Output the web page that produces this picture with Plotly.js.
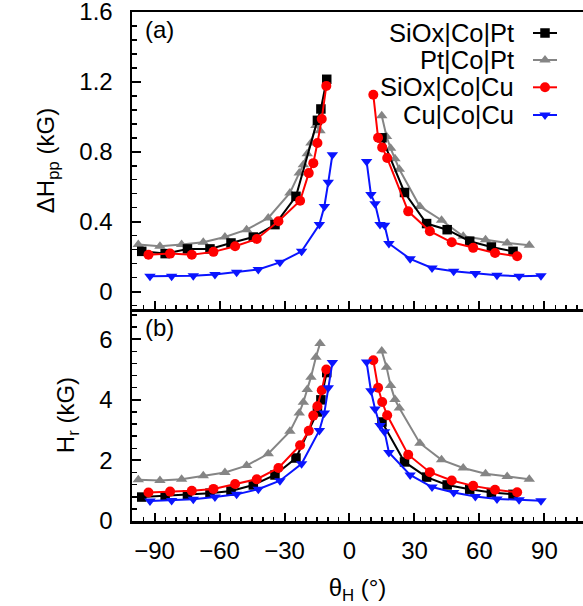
<!DOCTYPE html>
<html><head><meta charset="utf-8">
<script src="https://cdn.plot.ly/plotly-3.0.1.min.js"></script>
<style>html,body{margin:0;padding:0;background:#fff;}</style>
</head><body>
<div id="chart" style="width:583px;height:606px"></div>
<script>
// ---- Data ----
const seriesNames = ['SiOx|Co|Pt', 'Pt|Co|Pt', 'SiOx|Co|Cu', 'Cu|Co|Cu'];
const xTickVals = [-90, -60, -30, 0, 30, 60, 90];

// SiOx|Co|Pt
const sioxPtThetaNeg = [-95.9, -85.1, -74.8, -64.4, -54.7, -44.4, -34.4, -24.7, -14.8, -13.2, -10.5];
const sioxPtDHNeg    = [0.230, 0.217, 0.244, 0.244, 0.278, 0.312, 0.383, 0.545, 0.98, 1.045, 1.215];
const sioxPtHrNeg    = [0.79, 0.83, 0.86, 0.92, 0.99, 1.19, 1.52, 2.08, 3.6, 4.0, 4.9];
const sioxPtThetaPos = [15.0, 25.4, 35.6, 45.1, 55.5, 65.5, 75.5];
const sioxPtDHPos    = [0.88, 0.567, 0.389, 0.354, 0.288, 0.255, 0.23];
const sioxPtHrPos    = [3.27, 1.95, 1.45, 1.19, 1.05, 0.94, 0.88];

// Pt|Co|Pt
const ptPtThetaNeg = [-97.5, -87.5, -77.5, -67.5, -57.5, -47.5, -37.5, -27.5, -23.2, -21.3, -19.5, -17.8, -15.5, -13.6];
const ptPtDHNeg    = [0.269, 0.259, 0.269, 0.282, 0.312, 0.354, 0.421, 0.564, 0.678, 0.726, 0.789, 0.85, 0.95, 0.92];
const ptPtHrNeg    = [1.36, 1.34, 1.38, 1.49, 1.60, 1.83, 2.22, 2.96, 3.57, 3.92, 4.34, 4.75, 5.41, 5.86];
const ptPtThetaPos = [14.9, 17.1, 19.0, 21.0, 23.0, 32.5, 42.5, 52.5, 62.8, 72.8, 83.0];
const ptPtDHPos    = [1.006, 0.887, 0.82, 0.76, 0.70, 0.487, 0.408, 0.316, 0.297, 0.278, 0.265];
const ptPtHrPos    = [5.61, 5.08, 4.47, 4.01, 3.73, 2.57, 2.02, 1.75, 1.56, 1.47, 1.38];

// SiOx|Co|Cu
const sioxCuThetaNeg = [-92.8, -82.8, -72.8, -62.8, -52.8, -42.8, -32.8, -22.8, -18.8, -16.7, -14.8, -12.8, -10.7];
const sioxCuDHNeg    = [0.211, 0.217, 0.211, 0.227, 0.259, 0.301, 0.402, 0.52, 0.678, 0.735, 0.85, 0.988, 1.177];
const sioxCuHrNeg    = [0.94, 0.97, 1.0, 1.06, 1.22, 1.38, 1.75, 2.50, 2.98, 3.48, 3.79, 4.32, 5.0];
const sioxCuThetaPos = [11.0, 13.2, 15.1, 17.4, 27.1, 37.1, 47.2, 57.1, 67.2, 77.4];
const sioxCuDHPos    = [1.126, 0.88, 0.825, 0.764, 0.459, 0.345, 0.282, 0.25, 0.221, 0.202];
const sioxCuHrPos    = [5.31, 4.40, 3.93, 3.49, 2.19, 1.61, 1.34, 1.16, 1.03, 0.95];

// Cu|Co|Cu
const cuCuThetaNeg = [-92.1, -82.1, -72.1, -62.1, -52.1, -42.1, -32.1, -22.1, -13.9, -11.6, -9.8, -7.9];
const cuCuDHNeg    = [0.088, 0.088, 0.091, 0.097, 0.11, 0.126, 0.167, 0.23, 0.383, 0.487, 0.625, 0.783];
const cuCuHrNeg    = [0.66, 0.68, 0.72, 0.79, 0.88, 1.05, 1.33, 1.89, 2.99, 3.57, 4.40, 5.23];
const cuCuThetaPos = [7.9, 9.9, 11.8, 14.1, 16.2, 18.2, 28.0, 38.1, 48.1, 58.1, 68.1, 78.3, 88.4];
const cuCuDHPos    = [0.745, 0.555, 0.503, 0.383, 0.38, 0.275, 0.187, 0.135, 0.116, 0.103, 0.093, 0.088, 0.091];
const cuCuHrPos    = [5.25, 4.3, 3.7, 3.15, 2.95, 2.26, 1.52, 1.12, 0.94, 0.81, 0.73, 0.70, 0.67];

// ---- Styles ----
const FONT = 'Liberation Sans, Arial, Helvetica, sans-serif';
const styles = {
  'SiOx|Co|Pt': {color: '#000000', symbol: 'square', size: 9.5},
  'Pt|Co|Pt':   {color: '#858585', symbol: 'triangle-up', size: 10},
  'SiOx|Co|Cu': {color: '#ff0000', symbol: 'circle', size: 10},
  'Cu|Co|Cu':   {color: '#0a14ff', symbol: 'triangle-down', size: 10}
};
// draw order (bottom to top)
const sets = [
  ['Pt|Co|Pt', ptPtThetaNeg, ptPtDHNeg, ptPtHrNeg, ptPtThetaPos, ptPtDHPos, ptPtHrPos],
  ['SiOx|Co|Pt', sioxPtThetaNeg, sioxPtDHNeg, sioxPtHrNeg, sioxPtThetaPos, sioxPtDHPos, sioxPtHrPos],
  ['SiOx|Co|Cu', sioxCuThetaNeg, sioxCuDHNeg, sioxCuHrNeg, sioxCuThetaPos, sioxCuDHPos, sioxCuHrPos],
  ['Cu|Co|Cu', cuCuThetaNeg, cuCuDHNeg, cuCuHrNeg, cuCuThetaPos, cuCuDHPos, cuCuHrPos]
];
const data = [];
function tr(name, x, y, xa, ya) {
  const s = styles[name];
  return {
    type: 'scatter', mode: 'lines+markers', x: x, y: y, xaxis: xa, yaxis: ya,
    name: name, showlegend: false,
    line: {color: s.color, width: 2},
    marker: {color: s.color, symbol: s.symbol, size: s.size, line: {width: 0}},
    cliponaxis: false, hoverinfo: 'skip'
  };
}
sets.forEach(([name, tn, dn, hn, tp, dp, hp]) => {
  data.push(tr(name, tn, dn, 'x', 'y'));
  data.push(tr(name, tp, dp, 'x', 'y'));
  data.push(tr(name, tn, hn, 'x2', 'y2'));
  data.push(tr(name, tp, hp, 'x2', 'y2'));
});

// ---- Layout geometry ----
const W = 583, H = 606, ML = 132, MR = 0, MT = 12, MB = 85;
const PW = W - ML - MR, PH = H - MT - MB;
const px2x = p => (p - ML) / PW;
const py2y = p => (H - MB - p) / PH;
const split = 212 / PH;

const TF = {family: FONT, size: 24, color: '#000'};
const xCommon = {
  range: [-100.4, 107.8], tickvals: xTickVals, ticks: 'inside', ticklen: 8, tickwidth: 2,
  tickcolor: '#000', showline: true, linewidth: 2.5, linecolor: '#000',
  showgrid: false, zeroline: false, ticklabeloverflow: 'allow',
  minor: {dtick: 5, tick0: 0, ticks: 'inside', ticklen: 4, tickwidth: 1.5, tickcolor: '#000', showgrid: false},
  tickfont: TF
};
const yCommon = {
  ticks: 'inside', ticklen: 9, tickwidth: 2, tickcolor: '#000', showline: true,
  linewidth: 2.5, linecolor: '#000', showgrid: false, zeroline: false, mirror: false,
  tickfont: TF, ticklabelstandoff: 12, ticklabeloverflow: 'allow'
};

// ---- Legend (text left, key right) ----
const legendRowsPx = [33, 60, 87.3, 115];
const legendKeyX = px2x(545);
const legendTexts = seriesNames.map((n, i) => ({
  text: n, xref: 'paper', yref: 'paper', x: px2x(516), y: py2y(legendRowsPx[i]),
  xanchor: 'right', yanchor: 'middle', showarrow: false,
  font: {family: FONT, size: 25.5, color: '#000'}
}));
const markerPaths = {
  'square': 'M -4.75 -4.75 L 4.75 -4.75 L 4.75 4.75 L -4.75 4.75 Z',
  'triangle-up': 'M -5.77 -2.5 L 5.77 -2.5 L 0 5 Z',
  'triangle-down': 'M -5.77 2.5 L 5.77 2.5 L 0 -5 Z'
};
const legendShapes = [];
seriesNames.forEach((n, i) => {
  const s = styles[n];
  const yy = py2y(legendRowsPx[i]);
  legendShapes.push({type: 'line', xref: 'paper', yref: 'paper', xsizemode: 'pixel', xanchor: legendKeyX,
    x0: -12, x1: 12, y0: yy, y1: yy, line: {color: s.color, width: 2}});
  if (s.symbol === 'circle') {
    legendShapes.push({type: 'circle', xref: 'paper', yref: 'paper', xsizemode: 'pixel', ysizemode: 'pixel',
      xanchor: legendKeyX, yanchor: yy, x0: -5, x1: 5, y0: -5, y1: 5,
      fillcolor: s.color, line: {color: s.color, width: 0}});
  } else {
    legendShapes.push({type: 'path', xref: 'paper', yref: 'paper', xsizemode: 'pixel', ysizemode: 'pixel',
      xanchor: legendKeyX, yanchor: yy, path: markerPaths[s.symbol],
      fillcolor: s.color, line: {color: s.color, width: 0}});
  }
});

const layout = {
  width: W, height: H,
  margin: {l: ML, r: MR, t: MT, b: MB},
  paper_bgcolor: '#fff', plot_bgcolor: '#fff',
  showlegend: false,
  xaxis: Object.assign({}, xCommon, {anchor: 'y', showticklabels: false, mirror: true}),
  xaxis2: Object.assign({}, xCommon, {anchor: 'y2', matches: 'x', showticklabels: true,
           ticklabelstandoff: 7,
           title: {text: 'θ<sub>H</sub> (°)', font: TF, standoff: 16}}),
  yaxis: Object.assign({}, yCommon, {domain: [split, 1], range: [-0.1, 1.6001], tickvals: [0, 0.4, 0.8, 1.2, 1.6],
           minor: {dtick: 0.08, tick0: 0, ticks: 'inside', ticklen: 5, tickwidth: 1.5, tickcolor: '#000', showgrid: false},
           title: {text: 'ΔH<sub>pp</sub> (kG)', font: TF, standoff: 18}}),
  yaxis2: Object.assign({}, yCommon, {domain: [0, split], range: [0, 7], tickvals: [0, 2, 4, 6],
           minor: {dtick: 0.4, tick0: 0, ticks: 'inside', ticklen: 5, tickwidth: 1.5, tickcolor: '#000', showgrid: false},
           title: {text: 'H<sub>r</sub> (kG)', font: TF, standoff: 18}}),
  shapes: legendShapes,
  annotations: [
    {text: '(a)', xref: 'paper', yref: 'paper', x: px2x(143), y: py2y(29),
     xanchor: 'left', yanchor: 'middle', showarrow: false, font: TF},
    {text: '(b)', xref: 'paper', yref: 'paper', x: px2x(143), y: py2y(327),
     xanchor: 'left', yanchor: 'middle', showarrow: false, font: TF}
  ].concat(legendTexts)
};

Plotly.newPlot('chart', data, layout, {staticPlot: true, displayModeBar: false});
</script>
</body></html>
